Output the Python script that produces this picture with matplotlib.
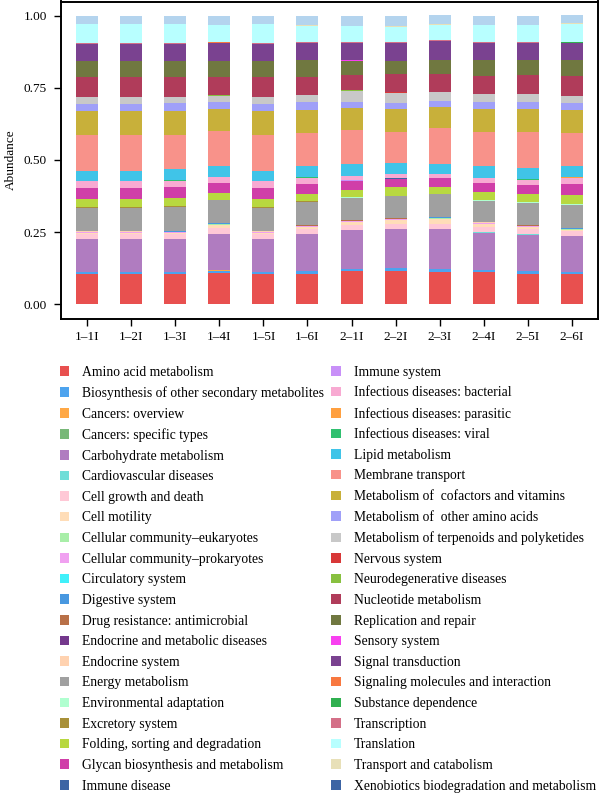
import matplotlib
matplotlib.use("Agg")
import matplotlib.pyplot as plt
from matplotlib.patches import Patch
import numpy as np

plt.rcParams['font.family'] = ['Liberation Serif', 'DejaVu Serif']

samples = ["1–1I", "1–2I", "1–3I", "1–4I", "1–5I", "1–6I",
           "2–1I", "2–2I", "2–3I", "2–4I", "2–5I", "2–6I"]

categories = [
    "Amino acid metabolism", "Biosynthesis of other secondary metabolites",
    "Cancers: overview", "Cancers: specific types", "Carbohydrate metabolism",
    "Cardiovascular diseases", "Cell growth and death", "Cell motility",
    "Cellular community–eukaryotes", "Cellular community–prokaryotes",
    "Circulatory system", "Digestive system", "Drug resistance: antimicrobial",
    "Endocrine and metabolic diseases", "Endocrine system", "Energy metabolism",
    "Environmental adaptation", "Excretory system",
    "Folding, sorting and degradation", "Glycan biosynthesis and metabolism",
    "Immune disease", "Immune system", "Infectious diseases: bacterial",
    "Infectious diseases: parasitic", "Infectious diseases: viral",
    "Lipid metabolism", "Membrane transport",
    "Metabolism of  cofactors and vitamins", "Metabolism of  other amino acids",
    "Metabolism of terpenoids and polyketides", "Nervous system",
    "Neurodegenerative diseases", "Nucleotide metabolism",
    "Replication and repair", "Sensory system", "Signal transduction",
    "Signaling molecules and interaction", "Substance dependence",
    "Transcription", "Translation", "Transport and catabolism",
    "Xenobiotics biodegradation and metabolism",
]

# abundance per category, one value per sample (1-1I ... 2-6I)
amino = [0.106, 0.106, 0.106, 0.108, 0.106, 0.106, 0.114, 0.114, 0.112, 0.111, 0.106, 0.104]
biosynth = [0.005, 0.005, 0.005, 0.008, 0.005, 0.008, 0.008, 0.010, 0.010, 0.006, 0.008, 0.007]
cancers_ov = [0.0008] * 12
cancers_sp = [0.0006] * 12
carbohydrate = [0.112, 0.112, 0.112, 0.127, 0.112, 0.127, 0.133, 0.134, 0.136, 0.130, 0.126, 0.123]
cardio = [0.0004] * 12
cell_growth = [0.018] * 12
cell_motility = [0.0028, 0.0028, 0.0051, 0.0131, 0.0028, 0.0074, 0.0105, 0.015, 0.019, 0.0096, 0.0085, 0.0048]
comm_euk = [0.0003] * 12
comm_prok = [0.003] * 12
circulatory = [0.0002] * 12
digestive = [0.0005] * 12
drug_res = [0.0015] * 12
endo_met = [0.0005] * 12
endo_sys = [0.001] * 12
energy = [0.081, 0.081, 0.082, 0.077, 0.081, 0.079, 0.077, 0.075, 0.077, 0.075, 0.077, 0.079]
env_adapt = [0.0015] * 12
excretory = [0.0003] * 12
folding = [0.028, 0.028, 0.029, 0.025, 0.028, 0.027, 0.026, 0.029, 0.024, 0.029, 0.029, 0.031]
glycan = [0.038, 0.038, 0.037, 0.034, 0.038, 0.034, 0.031, 0.030, 0.031, 0.031, 0.030, 0.040]
immune_dis = [0.0005] * 12
immune_sys = [0.0003] * 12
inf_bact = [0.024, 0.024, 0.023, 0.020, 0.024, 0.021, 0.015, 0.015, 0.012, 0.017, 0.018, 0.021]
inf_para = [0.0003] * 12
inf_viral = [0.0005] * 12
lipid = [0.036, 0.036, 0.040, 0.036, 0.036, 0.038, 0.040, 0.037, 0.036, 0.040, 0.040, 0.040]
membrane = [0.125, 0.125, 0.119, 0.122, 0.125, 0.117, 0.118, 0.108, 0.123, 0.120, 0.126, 0.112]
cofactors = [0.083, 0.083, 0.083, 0.077, 0.083, 0.080, 0.077, 0.081, 0.073, 0.078, 0.078, 0.081]
other_aa = [0.025, 0.025, 0.025, 0.023, 0.025, 0.025, 0.023, 0.021, 0.023, 0.023, 0.025, 0.025]
terpenoids = [0.021, 0.021, 0.021, 0.023, 0.021, 0.026, 0.038, 0.035, 0.029, 0.029, 0.027, 0.024]
nervous = [0.0003] * 12
neurodeg = [0.0012] * 12
nucleotide = [0.068, 0.068, 0.068, 0.064, 0.068, 0.062, 0.054, 0.062, 0.060, 0.062, 0.065, 0.067]
replication = [0.058, 0.058, 0.058, 0.055, 0.058, 0.058, 0.049, 0.046, 0.049, 0.054, 0.051, 0.058]
sensory = [0.0001] * 12
signal = [0.057, 0.057, 0.057, 0.063, 0.057, 0.059, 0.061, 0.061, 0.067, 0.059, 0.059, 0.058]
signaling = [0.001] * 12
substance = [0.0003] * 12
transcription = [0.0017] * 12
translation = [0.066, 0.066, 0.066, 0.058, 0.066, 0.057, 0.054, 0.054, 0.054, 0.059, 0.059, 0.064]
transport = [0.002] * 12
xenobiotics = [0.027, 0.027, 0.027, 0.029, 0.027, 0.033, 0.036, 0.036, 0.030, 0.030, 0.030, 0.027]

values = [amino, biosynth, cancers_ov, cancers_sp, carbohydrate, cardio,
          cell_growth, cell_motility, comm_euk, comm_prok, circulatory,
          digestive, drug_res, endo_met, endo_sys, energy, env_adapt,
          excretory, folding, glycan, immune_dis, immune_sys, inf_bact,
          inf_para, inf_viral, lipid, membrane, cofactors, other_aa,
          terpenoids, nervous, neurodeg, nucleotide, replication, sensory,
          signal, signaling, substance, transcription, translation,
          transport, xenobiotics]

colors = ['#E8504F', '#4DA3EE', '#FFA845', '#78B878', '#B07CC0', '#70DED8',
          '#FFC8D6', '#FFDDB8', '#A8EEA8', '#F0A0F0', '#40F0FA', '#4898E0',
          '#B87048', '#74388C', '#FFD2B0', '#A0A0A0', '#B0FFD0', '#A89038',
          '#B8D840', '#D03EA8', '#3C64A4', '#C890F8', '#F8AAD2', '#FFA040',
          '#30C070', '#40C4E8', '#F8928A', '#C8B03A', '#A0A0F8', '#C8C8C8',
          '#D83838', '#88C040', '#B03C5A', '#707840', '#F840F0', '#7A4290',
          '#F87840', '#30B050', '#D47088', '#B8FFFF', '#E8E0B8', '#B4D4EE']
legend_colors = colors[:-1] + ['#3C64A4']

fig = plt.figure(figsize=(6.0, 7.93), dpi=100)
ax = fig.add_axes([61 / 600, 1 - 318.5 / 793, 537 / 600, 317 / 793])

x = np.arange(len(samples))
bottom = np.zeros(len(samples))
for vals, c in zip(values, colors):
    v = np.array(vals)
    ax.bar(x, v, width=0.5, bottom=bottom, color=c, linewidth=0)
    bottom += v

ax.set_xlim(-0.6, len(samples) - 1 + 0.6)
ax.set_ylim(-0.05, 1.05)
ax.set_yticks([0, 0.25, 0.5, 0.75, 1.0])
ax.set_yticklabels(["0.00", "0.25", "0.50", "0.75", "1.00"])
ax.set_xticks(x)
ax.set_xticklabels(samples)
ax.tick_params(axis='both', direction='out', length=5, width=1.0,
               colors='black', labelsize=9.5, pad=5)
ax.tick_params(axis='x', pad=4)
for s in ax.spines.values():
    s.set_linewidth(1.4)
    s.set_color('black')
ax.set_ylabel("Abundance", fontsize=9.5, labelpad=5)

handles = [Patch(facecolor=c, edgecolor='none') for c in legend_colors]
fig.legend(handles, categories, ncol=2, loc='upper left',
           bbox_to_anchor=(50 / 600, 1 - 356 / 793), frameon=False,
           fontsize=9.8, handlelength=0.7, handleheight=0.7,
           handletextpad=0.95, labelspacing=0.56, columnspacing=0.55,
           borderpad=0.2)

fig.savefig("out.png", dpi=100)
